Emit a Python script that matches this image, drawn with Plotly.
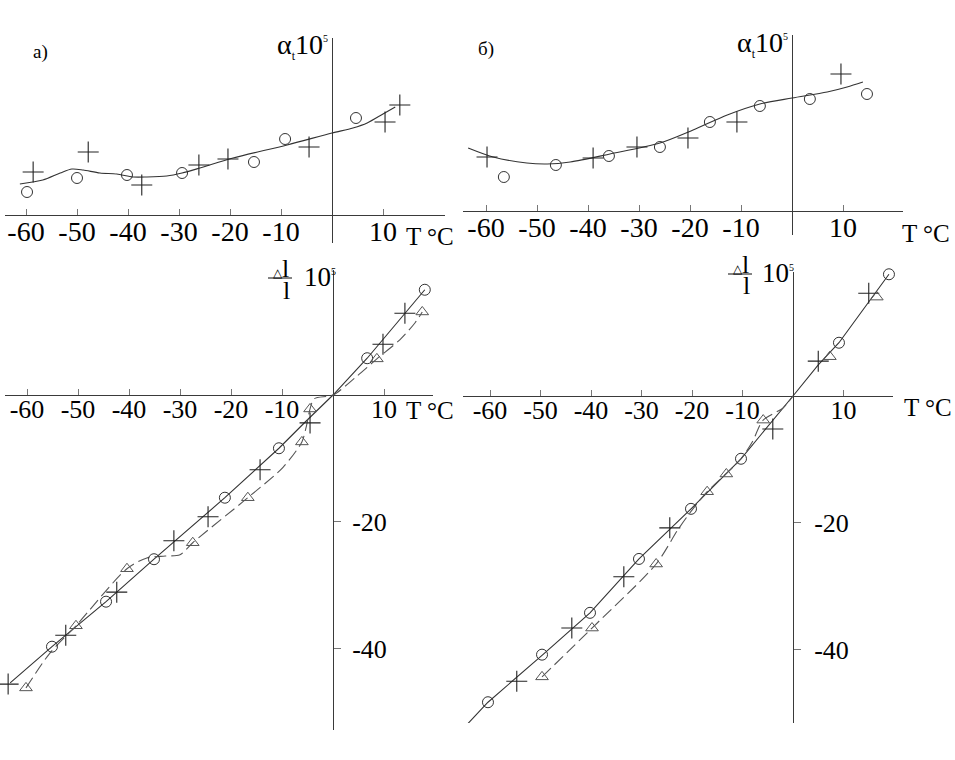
import plotly.graph_objects as go

# ---------------- data (T in °C, values in the chart's own units) ----------------
# Panel а) top: alpha_t * 1e5 (arbitrary vertical units, no ticks in original)
a_top_circ_T = [-59.8, -50.0, -40.2, -29.4, -15.3, -9.2, 4.7]
a_top_circ_v = [2.3, 3.7, 4.0, 4.2, 5.3, 7.6, 9.7]
a_top_plus_T = [-58.6, -47.8, -37.3, -26.1, -20.4, -4.5, 10.4, 13.3]
a_top_plus_v = [4.3, 6.3, 3.0, 5.0, 5.6, 6.8, 9.3, 11.0]
a_top_line_T = [-61.2, -56.7, -53.3, -51.0, -48.8, -45.5, -42.2, -39.0, -36.3, -32.4,
                -29.4, -25.9, -19.4, -8.8, 0.0, 4.1, 6.9, 10.0, 12.4]
a_top_line_v = [3.1, 3.5, 4.2, 4.6, 4.5, 4.2, 4.1, 3.8, 3.8, 3.9,
                4.2, 4.7, 5.7, 7.0, 8.2, 8.7, 9.2, 10.1, 10.8]

# Panel б) top
b_top_circ_T = [-56.5, -46.3, -35.9, -25.9, -16.1, -6.3, 3.5, 14.7]
b_top_circ_v = [3.4, 4.6, 5.5, 6.4, 8.9, 10.5, 11.2, 11.7]
b_top_plus_T = [-59.8, -39.0, -30.4, -20.4, -10.8, 9.6]
b_top_plus_v = [5.4, 5.3, 6.4, 7.3, 8.9, 13.7]
b_top_line_T = [-63.5, -58.6, -52.0, -48.0, -43.5, -35.7, -25.9, -19.4, -12.7, -6.3,
                0.0, 6.9, 10.8, 13.9]
b_top_line_v = [6.3, 5.4, 4.8, 4.7, 4.9, 5.7, 6.8, 8.1, 9.6, 10.7,
                11.3, 11.9, 12.4, 12.9]

# Panel а) bottom: Δl/l * 1e5
a_bot_circ_T = [-55.1, -44.5, -35.1, -21.2, -10.6, 6.7, 18.0]
a_bot_circ_v = [-39.7, -32.6, -25.9, -16.2, -8.4, 5.8, 16.6]
a_bot_plus_T = [-63.7, -52.4, -42.4, -31.2, -24.5, -14.3, -4.5, 9.8, 14.1]
a_bot_plus_v = [-45.6, -37.9, -31.1, -23.0, -19.2, -11.8, -4.4, 8.0, 12.9]
a_bot_tri_T = [-60.2, -50.4, -40.4, -27.5, -16.7, -6.1, -4.5, 8.6, 17.5]
a_bot_tri_v = [-46.2, -36.4, -27.4, -23.3, -16.2, -7.4, -2.2, 5.7, 13.1]
a_bot_solid_T = [-63.3, -55.1, -44.5, -35.1, -21.2, -10.6, -5.5, 0.0, 6.7, 18.0]
a_bot_solid_v = [-45.4, -39.7, -32.6, -25.9, -16.2, -8.4, -4.3, 0.0, 5.8, 16.6]
a_bot_dash_T = [-60.2, -55.5, -50.4, -40.4, -36.5, -32.9, -30.0, -27.5, -16.7, -9.8,
                -6.1, -5.3, -4.5, -3.7, 0.0, 4.3, 8.6, 13.1, 16.1, 17.5]
a_bot_dash_v = [-46.2, -40.7, -36.4, -27.4, -25.7, -25.4, -25.2, -23.3, -16.2, -11.4,
                -7.4, -5.2, -2.2, -0.6, 0.0, 2.7, 5.7, 8.7, 11.4, 13.1]

# Panel б) bottom
b_bot_circ_T = [-60.4, -49.7, -40.2, -30.5, -20.2, -10.3, 9.1, 19.0]
b_bot_circ_v = [-48.3, -40.8, -34.2, -25.7, -17.8, -9.9, 8.4, 19.2]
b_bot_plus_T = [-54.7, -43.8, -33.5, -24.4, -4.0, 5.0, 15.0]
b_bot_plus_v = [-45.0, -36.6, -28.5, -20.8, -5.2, 5.5, 16.2]
b_bot_tri_T = [-49.7, -39.8, -27.1, -17.0, -13.2, -5.9, 7.3, 16.6]
b_bot_tri_v = [-44.3, -36.6, -26.5, -15.1, -12.3, -3.8, 6.2, 15.6]
b_bot_solid_T = [-65.0, -60.4, -49.7, -40.2, -30.5, -20.2, -10.3, -6.5, -2.0, 0.0,
                 5.0, 9.1, 19.0]
b_bot_solid_v = [-52.2, -48.3, -40.9, -34.2, -25.7, -17.8, -9.9, -6.3, -1.9, 0.0,
                 4.9, 8.4, 19.2]
b_bot_dash_T = [-49.7, -39.8, -27.1, -22.8, -20.0, -17.0, -13.3, -10.3, -8.1, -5.9,
                -2.0, 0.0]
b_bot_dash_v = [-44.3, -36.6, -26.5, -21.1, -18.0, -15.1, -12.3, -9.9, -7.3, -3.8,
                -1.9, 0.0]

x_tickvals = [-60, -50, -40, -30, -20, -10, 10]
x_ticktext = ["-60", "-50", "-40", "-30", "-20", "-10", "10"]
y_tickvals = [-20, -40]
y_ticktext = ["-20", "-40"]

# ---------------- layout helpers ----------------
W, H = 955, 760
SERIF = "Liberation Serif, Times New Roman, serif"
AX = "#3a3a3a"

fig = go.Figure()
layout = dict(width=W, height=H, margin=dict(l=0, r=0, t=0, b=0, autoexpand=False),
              paper_bgcolor="white", plot_bgcolor="white", showlegend=False)


def panel(n, left, right, top, bottom, x0, y0, sx, sy, xfont, xstand, yticks=False, ystand=10):
    sfx = "" if n == 1 else str(n)
    xr = [(left - x0) / sx, (right - x0) / sx]
    yr = [(y0 - bottom) / sy, (y0 - top) / sy]
    layout["xaxis" + sfx] = dict(
        domain=[left / W, right / W], range=xr, anchor="free", position=1 - y0 / H,
        showgrid=False, showline=False, zeroline=True, zerolinecolor=AX, zerolinewidth=1.4,
        ticks="inside", ticklen=6, tickwidth=1, tickcolor="#777",
        tickvals=x_tickvals, ticktext=x_ticktext, ticklabelstandoff=xstand,
        tickfont=dict(family=SERIF, size=xfont, color="black"), fixedrange=True)
    ya = dict(domain=[1 - bottom / H, 1 - top / H], range=yr,
              showgrid=False, showline=False, zeroline=True, zerolinecolor=AX,
              zerolinewidth=1.4, fixedrange=True)
    if yticks:
        ya.update(anchor="free", position=x0 / W, side="right", ticks="outside",
                  ticklen=7, tickwidth=1, tickcolor="#777",
                  tickvals=y_tickvals, ticktext=y_ticktext, ticklabelstandoff=ystand,
                  tickfont=dict(family=SERIF, size=26, color="black"))
    else:
        ya.update(anchor="x" + sfx, showticklabels=False, ticks="")
    layout["yaxis" + sfx] = ya
    return "x" + sfx, "y" + sfx


def add_line(ax, T, v, dash="solid", color="#333", shape="spline"):
    fig.add_trace(go.Scatter(x=T, y=v, mode="lines", xaxis=ax[0], yaxis=ax[1],
                             line=dict(color=color, width=1.1, dash=dash, shape=shape,
                                       smoothing=0.8), hoverinfo="skip"))


def add_marks(ax, T, v, kind):
    style = {
        "circ": dict(symbol="circle-open", size=11, color="#333", line=dict(width=1, color="#333")),
        "plus": dict(symbol="cross-thin-open", size=15, color="#222", line=dict(width=1.1, color="#222")),
        "tri": dict(symbol="triangle-up-open", size=11, color="#555", line=dict(width=1, color="#555")),
    }[kind]
    fig.add_trace(go.Scatter(x=T, y=v, mode="markers", xaxis=ax[0], yaxis=ax[1],
                             marker=style, cliponaxis=False))


ax1 = panel(1, 5, 445, 38, 243, 332, 215, 5.1, 10, 28, -3)
ax2 = panel(2, 463, 903, 35, 235, 792, 211, 5.1, 10, 28, -3)
ax3 = panel(3, 5, 433, 270, 730, 333, 395, 5.1, 6.34, 26, -4, yticks=True, ystand=6)
ax4 = panel(4, 463, 893, 272, 723, 793, 396, 5.05, 6.34, 26, -4, yticks=True, ystand=8)

# top а)
add_line(ax1, a_top_line_T, a_top_line_v)
add_marks(ax1, a_top_circ_T, a_top_circ_v, "circ")
add_marks(ax1, a_top_plus_T, a_top_plus_v, "plus")
# top б)
add_line(ax2, b_top_line_T, b_top_line_v)
add_marks(ax2, b_top_circ_T, b_top_circ_v, "circ")
add_marks(ax2, b_top_plus_T, b_top_plus_v, "plus")
# bottom а)
add_line(ax3, a_bot_solid_T, a_bot_solid_v, shape="linear")
add_line(ax3, a_bot_dash_T, a_bot_dash_v, dash="12px,5px", color="#555")
add_marks(ax3, a_bot_circ_T, a_bot_circ_v, "circ")
add_marks(ax3, a_bot_plus_T, a_bot_plus_v, "plus")
add_marks(ax3, a_bot_tri_T, a_bot_tri_v, "tri")
# bottom б)
add_line(ax4, b_bot_solid_T, b_bot_solid_v, shape="linear")
add_line(ax4, b_bot_dash_T, b_bot_dash_v, dash="12px,5px", color="#555")
add_marks(ax4, b_bot_circ_T, b_bot_circ_v, "circ")
add_marks(ax4, b_bot_plus_T, b_bot_plus_v, "plus")
add_marks(ax4, b_bot_tri_T, b_bot_tri_v, "tri")

# ---------------- text ----------------
ann = []


def txt(text, px, py, size, xanchor="left", yanchor="middle"):
    ann.append(dict(text=text, x=px / W, y=1 - py / H, xref="paper", yref="paper",
                    xanchor=xanchor, yanchor=yanchor, showarrow=False,
                    font=dict(family=SERIF, size=size, color="black")))


alpha = "α<sub><span style='font-size:12px'>t</span></sub>10<sup><span style='font-size:10px'>5</span></sup>"
txt(alpha, 330, 46, 28, xanchor="right")
txt(alpha, 790, 44, 28, xanchor="right")
txt("а)", 31, 52, 19)
txt("б)", 476, 49, 19)
txt("T °C", 404, 236, 25)
txt("T °C", 900, 234, 25)
txt("T °C", 404, 410, 25)
txt("T °C", 902, 407, 25)

shapes = []
for (cx, bary, tx, ty) in [(280, 278, 302, 277), (740, 274, 760, 273)]:
    txt("<span style='font-size:12px'>△</span>l", cx + 1, bary - 9, 26,
        xanchor="center", yanchor="middle")
    txt("l", cx + 6, bary + 12, 26, xanchor="center", yanchor="middle")
    txt("10<sup><span style='font-size:10px'>5</span></sup>", tx, ty, 27)
    shapes.append(dict(type="line", xref="paper", yref="paper",
                       x0=(cx - 12) / W, x1=(cx + 12) / W,
                       y0=1 - bary / H, y1=1 - bary / H,
                       line=dict(color="#333", width=1.2)))

layout["annotations"] = ann
layout["shapes"] = shapes
fig.update_layout(**layout)
fig.write_html("out.html", config={"displayModeBar": False},
               post_script="document.body.style.margin='0px';document.body.style.overflow='hidden';")
